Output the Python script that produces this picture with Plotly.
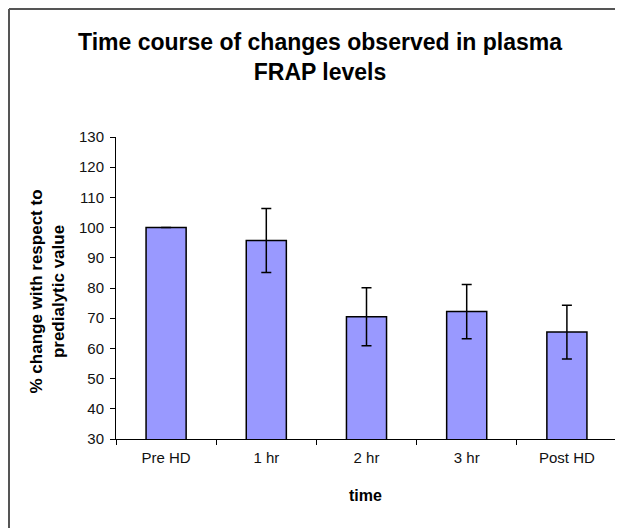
import plotly.graph_objects as go

categories = ["Pre HD", "1 hr", "2 hr", "3 hr", "Post HD"]
values = [100, 95.7, 70.5, 72.2, 65.4]
errors = [0, 10.6, 9.6, 9.0, 8.9]

OFF = 8  # page body margin offset
W, H = 615, 520
# desired plot area in page pixels
X0, X1, Y0, Y1 = 116, 617, 137, 439
L, T = X0 - OFF, Y0 - OFF
R, B = W - (X1 - OFF), H - (Y1 - OFF)
pw, ph = X1 - X0, Y1 - Y0

def px(x):
    return (x - X0) / pw

def py(y):
    return (Y1 - y) / ph

fig = go.Figure()
fig.add_trace(go.Bar(
    x=categories, y=values, width=0.4,
    marker=dict(color="#9999FF", line=dict(color="black", width=1.5)),
    error_y=dict(type="data", array=errors, visible=True, color="black",
                 thickness=1.5, width=5),
))

fig.update_layout(
    width=W, height=H,
    margin=dict(l=L, r=R, t=T, b=B, autoexpand=False),
    paper_bgcolor="white", plot_bgcolor="white",
    showlegend=False,
    font=dict(family="Arial", color="black"),
    xaxis=dict(
        type="category", tickson="boundaries", ticks="outside", ticklen=5,
        tickcolor="black", showline=True, linecolor="black", linewidth=1,
        showgrid=False, tickfont=dict(size=15, color="#111"),
        ticklabelstandoff=5,
    ),
    yaxis=dict(
        range=[30, 130], dtick=10, ticks="outside", ticklen=5,
        tickcolor="black", showline=True, linecolor="black", linewidth=1,
        showgrid=False, zeroline=False, tickfont=dict(size=15, color="#111"),
        ticklabelstandoff=3,
    ),
    annotations=[
        dict(text="<b>Time course of changes observed in plasma<br>FRAP levels</b>",
             xref="paper", yref="paper", x=px(320), y=py(27),
             xanchor="center", yanchor="top", showarrow=False,
             font=dict(size=23, color="black")),
        dict(text="<b>% change with respect to<br>predialytic value</b>",
             xref="paper", yref="paper", x=px(46.5), y=py(292),
             xanchor="center", yanchor="middle", textangle=-90, showarrow=False,
             font=dict(size=17, color="black")),
        dict(text="<b>time</b>",
             xref="paper", yref="paper", x=px(365), y=py(495),
             xanchor="center", yanchor="middle", showarrow=False,
             font=dict(size=16, color="black")),
    ],
    shapes=[
        dict(type="line", xref="paper", yref="paper",
             x0=px(9), x1=px(640), y0=py(9), y1=py(9),
             line=dict(color="#555", width=2)),
        dict(type="line", xref="paper", yref="paper",
             x0=px(9), x1=px(9), y0=py(9), y1=py(540),
             line=dict(color="#555", width=2)),
    ],
)

fig.write_html("out.html")
